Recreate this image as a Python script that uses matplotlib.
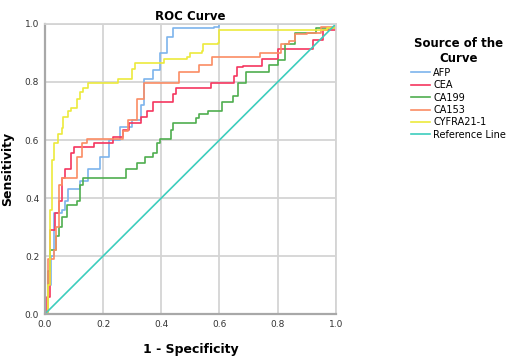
import matplotlib
matplotlib.use("Agg")
import matplotlib.pyplot as plt

# ROC curve points (1 - specificity, sensitivity)
afp_x = [0.0, 0.01, 0.01, 0.02, 0.03, 0.06, 0.07, 0.08, 0.12, 0.15, 0.19, 0.22, 0.26,
         0.30, 0.33, 0.34, 0.37, 0.395, 0.42, 0.44, 0.58, 0.60, 1.0]
afp_y = [0.0, 0.0, 0.10, 0.20, 0.35, 0.36, 0.39, 0.43, 0.46, 0.50, 0.54, 0.60, 0.645,
         0.67, 0.72, 0.81, 0.84, 0.90, 0.955, 0.985, 0.99, 1.0, 1.0]

cea_x = [0.0, 0.006, 0.017, 0.034, 0.05, 0.06, 0.07, 0.09, 0.10, 0.155, 0.17, 0.22, 0.235,
         0.27, 0.29, 0.33, 0.35, 0.37, 0.42, 0.44, 0.45, 0.56, 0.57, 0.64, 0.65, 0.66,
         0.68, 0.74, 0.745, 0.80, 0.90, 0.92, 0.955, 1.0]
cea_y = [0.0, 0.06, 0.29, 0.35, 0.39, 0.47, 0.50, 0.555, 0.576, 0.576, 0.59, 0.59, 0.61,
         0.635, 0.66, 0.68, 0.70, 0.73, 0.73, 0.76, 0.78, 0.78, 0.795, 0.795, 0.82, 0.85,
         0.855, 0.855, 0.88, 0.915, 0.915, 0.945, 0.98, 1.0]

ca199_x = [0.0, 0.01, 0.017, 0.03, 0.04, 0.05, 0.06, 0.075, 0.11, 0.12, 0.13, 0.195,
           0.28, 0.315, 0.345, 0.37, 0.385, 0.395, 0.435, 0.44, 0.52, 0.53, 0.56, 0.61,
           0.645, 0.665, 0.69, 0.77, 0.80, 0.825, 0.86, 0.93, 1.0]
ca199_y = [0.0, 0.15, 0.22, 0.22, 0.27, 0.30, 0.335, 0.375, 0.39, 0.445, 0.47, 0.47,
           0.50, 0.52, 0.54, 0.555, 0.59, 0.605, 0.635, 0.66, 0.675, 0.69, 0.70, 0.73,
           0.75, 0.795, 0.835, 0.86, 0.875, 0.93, 0.97, 0.985, 1.0]

ca153_x = [0.0, 0.01, 0.03, 0.04, 0.05, 0.06, 0.07, 0.11, 0.127, 0.144, 0.27, 0.285,
           0.315, 0.34, 0.45, 0.46, 0.53, 0.575, 0.74, 0.81, 0.84, 0.86, 0.90, 0.95, 1.0]
ca153_y = [0.0, 0.19, 0.22, 0.30, 0.445, 0.47, 0.47, 0.54, 0.59, 0.605, 0.63, 0.67,
           0.74, 0.795, 0.795, 0.835, 0.86, 0.885, 0.90, 0.93, 0.94, 0.965, 0.97, 0.99, 1.0]

cyfra_x = [0.0, 0.01, 0.017, 0.024, 0.03, 0.045, 0.058, 0.062, 0.08, 0.09, 0.11, 0.12,
           0.13, 0.148, 0.247, 0.25, 0.29, 0.30, 0.31, 0.405, 0.41, 0.49, 0.50, 0.54,
           0.545, 0.595, 0.60, 0.97, 1.0]
cyfra_y = [0.0, 0.10, 0.36, 0.53, 0.59, 0.62, 0.64, 0.68, 0.70, 0.71, 0.74, 0.765,
           0.78, 0.795, 0.797, 0.81, 0.81, 0.845, 0.865, 0.865, 0.88, 0.885, 0.90, 0.905,
           0.93, 0.935, 0.98, 0.985, 1.0]

ref_x = [0.0, 1.0]
ref_y = [0.0, 1.0]

labels = ["AFP", "CEA", "CA199", "CA153", "CYFRA21-1", "Reference Line"]
colors = ["#7db4ec", "#f5365f", "#4fae4f", "#fb8c64", "#ecea3c", "#3ccdbd"]
ticks = [0.0, 0.2, 0.4, 0.6, 0.8, 1.0]

fig = plt.figure(figsize=(5.09, 3.57), dpi=100)
ax = fig.add_axes([0.088, 0.120, 0.572, 0.813])

curves = [(afp_x, afp_y), (cea_x, cea_y), (ca199_x, ca199_y),
          (ca153_x, ca153_y), (cyfra_x, cyfra_y)]
for (x, y), lab, col in zip(curves, labels[:5], colors[:5]):
    ax.plot(x, y, color=col, lw=1.2, drawstyle="steps-post", label=lab)
ax.plot(ref_x, ref_y, color=colors[5], lw=1.2, label=labels[5])

ax.set_xlim(0, 1)
ax.set_ylim(0, 1)
ax.set_xticks(ticks)
ax.set_yticks(ticks)
ax.set_xticklabels(["%.1f" % t for t in ticks])
ax.set_yticklabels(["%.1f" % t for t in ticks])
ax.tick_params(length=0, labelsize=6.5, colors="#333333", pad=4)
ax.grid(True, color="#d4d4d4", lw=1.3)
ax.set_axisbelow(True)
for side in ["top", "right"]:
    ax.spines[side].set_color("#d4d4d4")
    ax.spines[side].set_linewidth(1.3)
for side in ["left", "bottom"]:
    ax.spines[side].set_color("#a8a8a8")
    ax.spines[side].set_linewidth(1.6)

ax.set_title("ROC Curve", fontsize=8.5, fontweight="bold", pad=3)
ax.set_xlabel("1 - Specificity", fontsize=9, fontweight="bold", labelpad=10)
ax.set_ylabel("Sensitivity", fontsize=9, fontweight="bold", labelpad=8)

leg = fig.legend(loc="upper left", bbox_to_anchor=(0.79, 0.92), frameon=False,
                 title="Source of the\nCurve", fontsize=7, handlelength=2.0,
                 handletextpad=0.3, labelspacing=0.25,
                 title_fontproperties={"weight": "bold", "size": 8.5})
leg.get_title().set_multialignment("center")

fig.savefig("out.png", dpi=100)
